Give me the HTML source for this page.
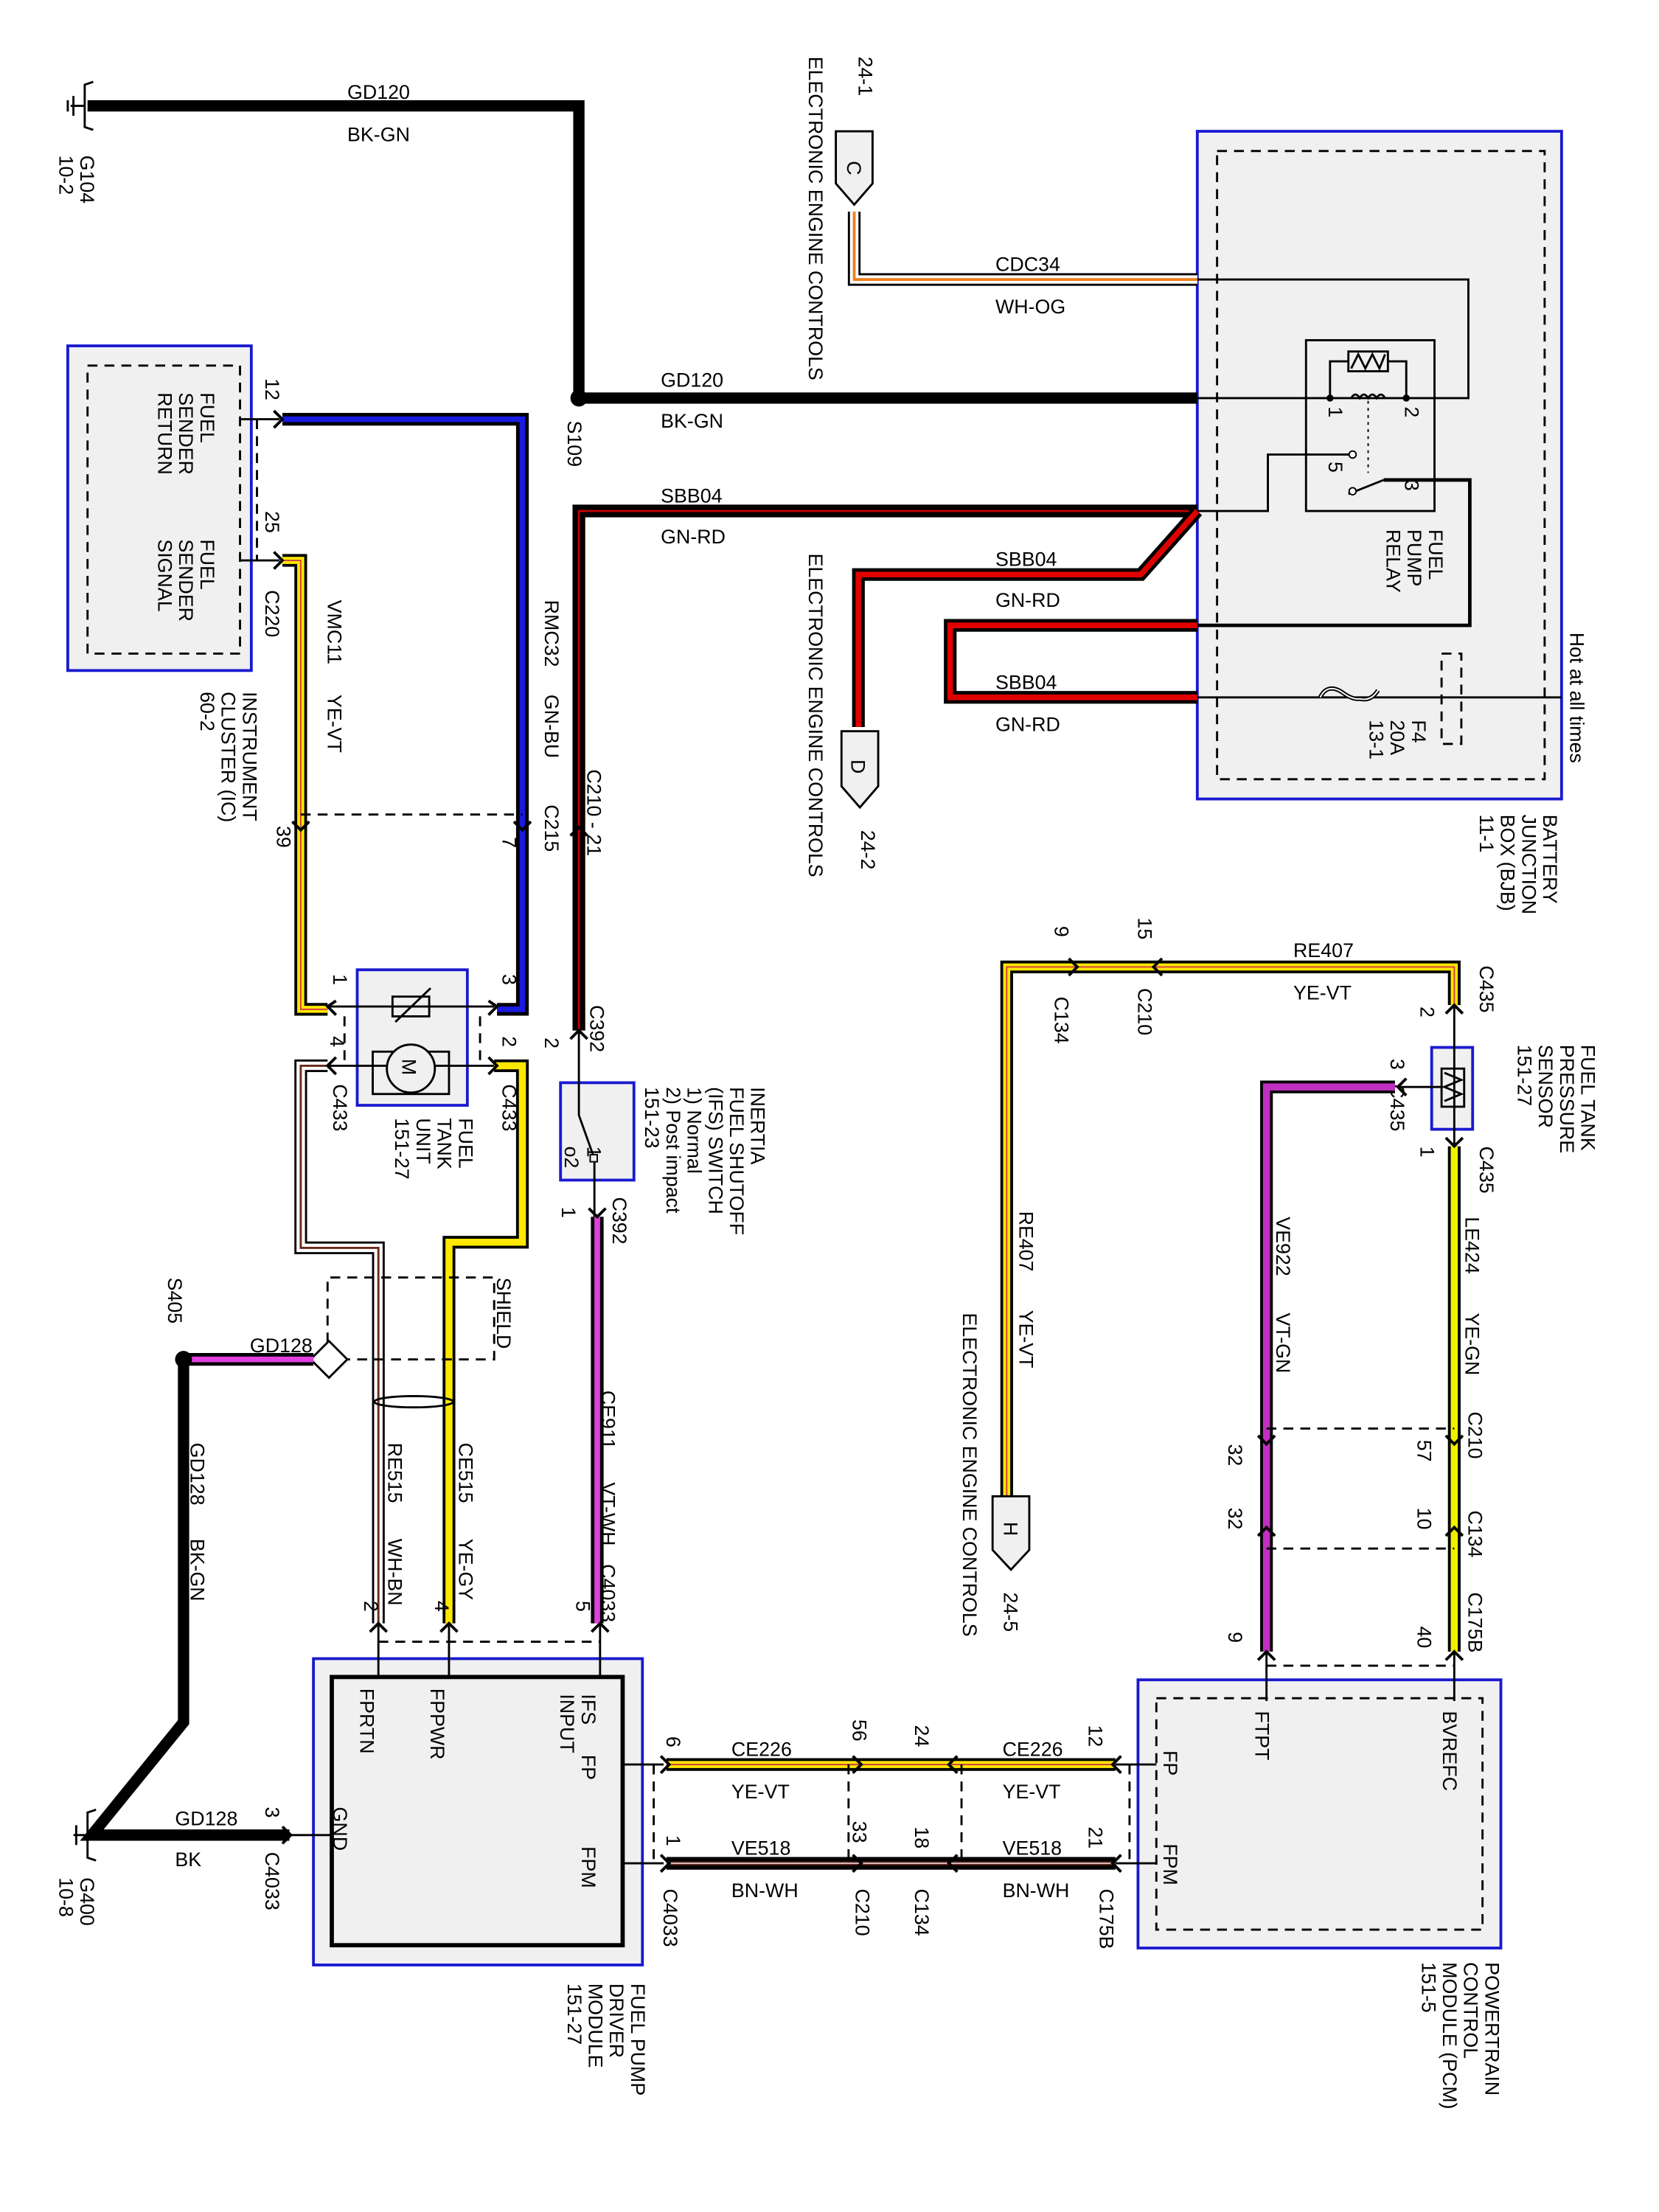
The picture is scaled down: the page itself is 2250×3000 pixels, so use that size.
<!DOCTYPE html>
<html><head><meta charset="utf-8"><style>
html,body{margin:0;padding:0;background:#fff;}
svg{display:block;}
text{font-family:"Liberation Sans",Arial,sans-serif;font-size:14px;fill:#000;}
.box{fill:#f0f0f0;stroke:#1a1ad0;stroke-width:2;}
.dash{fill:none;stroke:#000;stroke-width:1.5;stroke-dasharray:7,5;}
.ln{fill:none;stroke:#000;stroke-width:1.5;}
.wk{fill:none;stroke:#000;stroke-width:8;stroke-linejoin:miter;}
.wo{fill:none;stroke:#000;stroke-width:9;stroke-linejoin:miter;}
</style></head><body>
<svg width="2250" height="3000" viewBox="0 0 1175 1567" preserveAspectRatio="none" xmlns="http://www.w3.org/2000/svg">
<rect width="1175" height="1567" fill="#fff"/>

<rect class="box" x="48" y="245" width="130" height="230"/>
<rect class="dash" x="62" y="259" width="108" height="204"/>
<rect class="box" x="848" y="93" width="258" height="473"/>
<rect class="dash" x="862" y="107" width="232" height="445"/>
<rect class="box" x="222" y="1175" width="233" height="217"/>
<rect x="235" y="1188" width="206" height="190" fill="#f0f0f0" stroke="#000" stroke-width="3"/>
<rect class="box" x="806" y="1190" width="257" height="190"/>
<rect class="dash" x="819" y="1203" width="231" height="164"/>
<rect class="box" x="253" y="687" width="78" height="96"/>
<rect class="box" x="397" y="767" width="52" height="69"/>
<rect class="box" x="1014" y="742" width="29" height="58"/>

<polyline class="ln" points="66,58 60,60 60,90 66,92"/>
<line class="ln" x1="50" y1="75" x2="60" y2="75"/>
<line class="ln" x1="52" y1="68" x2="52" y2="82"/><line class="ln" x1="48" y1="71" x2="48" y2="79"/>
<polyline class="wk" points="62,75 410,75 410,282"/>
<polyline class="wk" points="410,282 848,282"/>
<circle cx="410" cy="282" r="6"/>
<text x="246" y="70">GD120</text><text x="246" y="100">BK-GN</text>
<text x="468" y="274">GD120</text><text x="468" y="303">BK-GN</text>
<text transform="translate(402,298) rotate(90)">S109</text>
<text transform="translate(57,110) rotate(90)">G104</text>
<text transform="translate(42,110) rotate(90)">10-2</text>

<polyline class="wo" points="605,150 605,198 848,198"/>
<polyline fill="none" stroke="#fff" stroke-width="6" points="605,150 605,198 848,198"/>
<polyline fill="none" stroke="#f08020" stroke-width="2" points="605,150 605,198 848,198"/>
<path d="M592,93 H618 V130 L605,145 L592,130 Z" fill="#f0f0f0" stroke="#000" stroke-width="1.5"/>
<text transform="translate(600,114) rotate(90)">C</text>
<text transform="translate(608,40) rotate(90)">24-1</text>
<text transform="translate(573,40) rotate(90)">ELECTRONIC ENGINE CONTROLS</text>
<text x="705" y="192">CDC34</text><text x="705" y="222">WH-OG</text>

<polyline class="wo" points="410,730 410,362 848,362"/>
<polyline fill="none" stroke="#c00000" stroke-width="1.5" points="410,730 410,362 848,362"/>
<polyline class="wo" points="608,515 608,407 808,407 848,362"/>
<polyline fill="none" stroke="#e00000" stroke-width="4" points="608,515 608,407 808,407 848,362"/>
<polyline class="wo" points="848,443 673,443 673,494 848,494"/>
<polyline fill="none" stroke="#e00000" stroke-width="4" points="848,443 673,443 673,494 848,494"/>
<text x="468" y="356">SBB04</text><text x="468" y="385">GN-RD</text>
<text x="705" y="401">SBB04</text><text x="705" y="430">GN-RD</text>
<text x="705" y="488">SBB04</text><text x="705" y="518">GN-RD</text>
<text transform="translate(573,392) rotate(90)">ELECTRONIC ENGINE CONTROLS</text>
<path d="M596,518 H622 V557 L609,572 L596,557 Z" fill="#f0f0f0" stroke="#000" stroke-width="1.5"/>
<text transform="translate(603,538) rotate(90)">D</text>
<text transform="translate(610,588) rotate(90)">24-2</text>

<polyline class="ln" points="848,198 1040,198 1040,282 848,282"/>
<rect x="925" y="241" width="91" height="121" fill="none" stroke="#000" stroke-width="1.5"/>
<polyline class="ln" points="942,282 942,256 955,256"/>
<rect x="955" y="249" width="28" height="14" fill="none" stroke="#000" stroke-width="1.5"/>
<polyline class="ln" points="957,261 962,251 967,261 972,251 977,261 981,251"/>
<polyline class="ln" points="983,256 996,256 996,282"/>
<circle cx="942" cy="282" r="2.5"/><circle cx="996" cy="282" r="2.5"/>
<path d="M957,282 q3,-5 6,0 q3,-5 6,0 q3,-5 6,0 q3,-5 6,0" class="ln"/>
<line x1="969" y1="284" x2="969" y2="335" stroke="#000" stroke-width="1" stroke-dasharray="2,3"/>
<polyline class="ln" points="848,362 898,362 898,322 957,322"/>
<circle cx="958" cy="322" r="2.5" fill="#fff" stroke="#000"/>
<line class="ln" x1="955" y1="350" x2="980" y2="340"/><circle cx="958" cy="348" r="2.5" fill="#fff" stroke="#000"/>
<polyline fill="none" stroke="#000" stroke-width="2.5" points="980,340 1041,340 1041,443 848,443"/>
<text transform="translate(941,288) rotate(90)" font-size="12">1</text>
<text transform="translate(995,288) rotate(90)" font-size="12">2</text>
<text transform="translate(941,327) rotate(90)" font-size="12">5</text>
<text transform="translate(995,340) rotate(90)" font-size="12">3</text>
<text transform="translate(1012,375) rotate(90)">FUEL</text>
<text transform="translate(997,375) rotate(90)">PUMP</text>
<text transform="translate(982,375) rotate(90)">RELAY</text>
<line class="ln" x1="848" y1="494" x2="1106" y2="494"/>
<path d="M935,494 q5,-10 15,-4 q8,6 13,5 q8,2 13,-6" fill="none" stroke="#000" stroke-width="3"/>
<path d="M935,494 q5,-10 15,-4 q8,6 13,5 q8,2 13,-6" fill="none" stroke="#fff" stroke-width="1"/>
<rect x="1021" y="463" width="14" height="64" fill="none" stroke="#000" stroke-width="1.5" stroke-dasharray="7,5"/>
<text transform="translate(1000,510) rotate(90)">F4</text>
<text transform="translate(985,510) rotate(90)">20A</text>
<text transform="translate(970,510) rotate(90)">13-1</text>
<text transform="translate(1112,448) rotate(90)">Hot at all times</text>
<text transform="translate(1093,577) rotate(90)">BATTERY</text>
<text transform="translate(1078,577) rotate(90)">JUNCTION</text>
<text transform="translate(1063,577) rotate(90)">BOX (BJB)</text>
<text transform="translate(1048,577) rotate(90)">11-1</text>

<line class="ln" x1="170" y1="297" x2="198" y2="297"/><line class="ln" x1="170" y1="397" x2="198" y2="397"/>
<polyline class="wo" points="200,297 370,297 370,715 352,715"/>
<polyline fill="none" stroke="#1a1ae0" stroke-width="4" points="200,297 370,297 370,715 352,715"/>
<polyline class="wo" points="200,397 213,397 213,715 232,715"/>
<polyline fill="none" stroke="#ffe800" stroke-width="5" points="200,397 213,397 213,715 232,715"/>
<polyline fill="none" stroke="#d04040" stroke-width="1" points="200,397 213,397 213,715 232,715"/>
<line class="dash" x1="182" y1="297" x2="182" y2="397"/>
<line class="dash" x1="213" y1="577" x2="370" y2="577"/>
<text transform="translate(142,278) rotate(90)">FUEL</text>
<text transform="translate(127,278) rotate(90)">SENDER</text>
<text transform="translate(112,278) rotate(90)">RETURN</text>
<text transform="translate(142,382) rotate(90)">FUEL</text>
<text transform="translate(127,382) rotate(90)">SENDER</text>
<text transform="translate(112,382) rotate(90)">SIGNAL</text>
<text transform="translate(188,268) rotate(90)">12</text>
<text transform="translate(188,362) rotate(90)">25</text>
<text transform="translate(188,418) rotate(90)">C220</text>
<text transform="translate(232,425) rotate(90)">VMC11</text>
<text transform="translate(232,492) rotate(90)">YE-VT</text>
<text transform="translate(386,425) rotate(90)">RMC32</text>
<text transform="translate(386,492) rotate(90)">GN-BU</text>
<text transform="translate(386,570) rotate(90)">C215</text>
<text transform="translate(356,593) rotate(90)">7</text>
<text transform="translate(196,585) rotate(90)">39</text>
<text transform="translate(172,490) rotate(90)">INSTRUMENT</text>
<text transform="translate(157,490) rotate(90)">CLUSTER (IC)</text>
<text transform="translate(142,490) rotate(90)">60-2</text>

<line class="ln" x1="232" y1="713" x2="350" y2="713"/>
<rect x="278" y="706" width="26" height="14" fill="none" stroke="#000" stroke-width="1.5"/>
<line class="ln" x1="280" y1="724" x2="305" y2="700"/>
<line class="ln" x1="232" y1="755" x2="350" y2="755"/>
<rect x="264" y="745" width="54" height="30" fill="none" stroke="#000" stroke-width="1.5"/>
<circle cx="291" cy="757" r="17" fill="#f0f0f0" stroke="#000" stroke-width="1.5"/>
<text transform="translate(285,750) rotate(90)" font-size="16">M</text>
<line class="dash" x1="244" y1="720" x2="244" y2="755"/><line class="dash" x1="340" y1="720" x2="340" y2="755"/>
<text transform="translate(236,690) rotate(90)">1</text><text transform="translate(356,690) rotate(90)">3</text>
<text transform="translate(234,734) rotate(90)">4</text><text transform="translate(356,734) rotate(90)">2</text>
<text transform="translate(236,768) rotate(90)">C433</text><text transform="translate(356,768) rotate(90)">C433</text>
<text transform="translate(325,792) rotate(90)">FUEL</text>
<text transform="translate(310,792) rotate(90)">TANK</text>
<text transform="translate(295,792) rotate(90)">UNIT</text>
<text transform="translate(280,792) rotate(90)">151-27</text>

<polyline class="wo" points="232,755 213,755 213,884 268,884 268,1150"/>
<polyline fill="none" stroke="#fff" stroke-width="6" points="232,755 213,755 213,884 268,884 268,1150"/>
<polyline fill="none" stroke="#6a2a1a" stroke-width="1.5" points="232,755 213,755 213,884 268,884 268,1150"/>
<polyline class="wo" points="350,755 370,755 370,880 318,880 318,1150"/>
<polyline fill="none" stroke="#ffe800" stroke-width="5" points="350,755 370,755 370,880 318,880 318,1150"/>
<polyline class="dash" points="232,963 232,905 350,905 350,963 245,963"/>
<text transform="translate(352,905) rotate(90)">SHIELD</text>
<path d="M233,950 L246,963 L233,976 L220,963 Z" fill="#fff" stroke="#000" stroke-width="1.5"/>
<polyline class="wo" points="130,963 222,963"/>
<polyline fill="none" stroke="#e040e0" stroke-width="4" points="130,963 222,963"/>
<ellipse cx="293" cy="993" rx="28" ry="4" fill="none" stroke="#000" stroke-width="1.5"/>
<circle cx="130" cy="963" r="6"/>
<text transform="translate(119,905) rotate(90)">S405</text>
<text x="177" y="958">GD128</text>
<polyline class="wk" points="130,963 130,1220 65,1300 205,1300"/>
<text transform="translate(135,1022) rotate(90)">GD128</text>
<text transform="translate(135,1090) rotate(90)">BK-GN</text>
<text transform="translate(275,1022) rotate(90)">RE515</text>
<text transform="translate(275,1090) rotate(90)">WH-BN</text>
<text transform="translate(325,1022) rotate(90)">CE515</text>
<text transform="translate(325,1090) rotate(90)">YE-GY</text>
<text transform="translate(258,1134) rotate(90)">2</text>
<text transform="translate(308,1134) rotate(90)">4</text>
<text transform="translate(408,1134) rotate(90)">5</text>
<line class="dash" x1="268" y1="1163" x2="425" y2="1163"/>
<line class="ln" x1="268" y1="1150" x2="268" y2="1188"/><line class="ln" x1="318" y1="1150" x2="318" y2="1188"/><line class="ln" x1="425" y1="1150" x2="425" y2="1188"/>

<polyline class="ln" points="68,1282 62,1284 62,1316 68,1318"/>
<line class="ln" x1="52" y1="1300" x2="62" y2="1300"/>
<line class="ln" x1="54" y1="1293" x2="54" y2="1307"/>
<text x="124" y="1293">GD128</text><text x="124" y="1322">BK</text>
<text transform="translate(188,1280) rotate(90)">3</text>
<text transform="translate(188,1312) rotate(90)">C4033</text>
<text transform="translate(57,1330) rotate(90)">G400</text>
<text transform="translate(42,1330) rotate(90)">10-8</text>
<line class="ln" x1="205" y1="1300" x2="235" y2="1300"/>

<text transform="translate(255,1196) rotate(90)">FPRTN</text>
<text transform="translate(305,1196) rotate(90)">FPPWR</text>
<text transform="translate(412,1200) rotate(90)">IFS</text>
<text transform="translate(397,1200) rotate(90)">INPUT</text>
<text transform="translate(412,1243) rotate(90)">FP</text>
<text transform="translate(412,1308) rotate(90)">FPM</text>
<text transform="translate(236,1280) rotate(90)">GND</text>
<text transform="translate(447,1405) rotate(90)">FUEL PUMP</text>
<text transform="translate(432,1405) rotate(90)">DRIVER</text>
<text transform="translate(417,1405) rotate(90)">MODULE</text>
<text transform="translate(402,1405) rotate(90)">151-27</text>

<text transform="translate(416,545) rotate(90)">C210 - 21</text>
<text transform="translate(418,712) rotate(90)">C392</text>
<text transform="translate(386,735) rotate(90)">2</text>
<line class="ln" x1="410" y1="730" x2="410" y2="790"/>
<line class="ln" x1="410" y1="790" x2="420" y2="818"/>
<rect x="418" y="818" width="5" height="5" fill="none" stroke="#000"/>
<line class="ln" x1="421" y1="823" x2="421" y2="862"/>
<text transform="translate(416,812) rotate(90)" font-size="12">1</text>
<text transform="translate(400,812) rotate(90)" font-size="12">o2</text>
<text transform="translate(398,855) rotate(90)">1</text>
<text transform="translate(434,848) rotate(90)">C392</text>
<text transform="translate(532,770) rotate(90)">INERTIA</text>
<text transform="translate(517,770) rotate(90)">FUEL SHUTOFF</text>
<text transform="translate(502,770) rotate(90)">(IFS) SWITCH</text>
<text transform="translate(487,770) rotate(90)">1) Normal</text>
<text transform="translate(472,770) rotate(90)">2) Post impact</text>
<text transform="translate(457,770) rotate(90)">151-23</text>
<polyline class="wo" points="423,862 423,1150"/>
<polyline fill="none" stroke="#e040e0" stroke-width="4" points="423,862 423,1150"/>
<text transform="translate(426,985) rotate(90)">CE911</text>
<text transform="translate(426,1050) rotate(90)">VT-WH</text>
<text transform="translate(426,1108) rotate(90)">C4033</text>

<line class="ln" x1="441" y1="1250" x2="470" y2="1250"/><line class="ln" x1="441" y1="1320" x2="470" y2="1320"/>
<polyline class="wo" points="472,1250 790,1250"/>
<polyline fill="none" stroke="#ffe800" stroke-width="5" points="472,1250 790,1250"/>
<polyline fill="none" stroke="#d04040" stroke-width="1" points="472,1250 790,1250"/>
<polyline class="wo" points="472,1320 790,1320"/>
<polyline fill="none" stroke="#4a1a10" stroke-width="3" points="472,1320 790,1320"/>
<polyline fill="none" stroke="#e0c0c0" stroke-width="1" points="472,1320 790,1320"/>
<line class="ln" x1="790" y1="1250" x2="819" y2="1250"/><line class="ln" x1="790" y1="1320" x2="819" y2="1320"/>
<line class="dash" x1="463" y1="1250" x2="463" y2="1320"/><line class="dash" x1="601" y1="1250" x2="601" y2="1320"/>
<line class="dash" x1="681" y1="1250" x2="681" y2="1320"/><line class="dash" x1="800" y1="1250" x2="800" y2="1320"/>
<text x="518" y="1244">CE226</text><text x="518" y="1274">YE-VT</text>
<text x="710" y="1244">CE226</text><text x="710" y="1274">YE-VT</text>
<text x="518" y="1314">VE518</text><text x="518" y="1344">BN-WH</text>
<text x="710" y="1314">VE518</text><text x="710" y="1344">BN-WH</text>
<text transform="translate(472,1230) rotate(90)">6</text>
<text transform="translate(604,1218) rotate(90)">56</text>
<text transform="translate(648,1222) rotate(90)">24</text>
<text transform="translate(771,1222) rotate(90)">12</text>
<text transform="translate(472,1300) rotate(90)">1</text>
<text transform="translate(604,1290) rotate(90)">33</text>
<text transform="translate(648,1294) rotate(90)">18</text>
<text transform="translate(771,1294) rotate(90)">21</text>
<text transform="translate(470,1338) rotate(90)">C4033</text>
<text transform="translate(606,1338) rotate(90)">C210</text>
<text transform="translate(648,1338) rotate(90)">C134</text>
<text transform="translate(779,1338) rotate(90)">C175B</text>

<text transform="translate(824,1240) rotate(90)">FP</text>
<text transform="translate(824,1306) rotate(90)">FPM</text>
<text transform="translate(889,1212) rotate(90)">FTPT</text>
<text transform="translate(1022,1212) rotate(90)">BVREFC</text>
<text transform="translate(1052,1390) rotate(90)">POWERTRAIN</text>
<text transform="translate(1037,1390) rotate(90)">CONTROL</text>
<text transform="translate(1022,1390) rotate(90)">MODULE (PCM)</text>
<text transform="translate(1007,1390) rotate(90)">151-5</text>

<polyline class="wo" points="1030,712 1030,685 713,685 713,1060"/>
<polyline fill="none" stroke="#ffe800" stroke-width="5" points="1030,712 1030,685 713,685 713,1060"/>
<polyline fill="none" stroke="#d04040" stroke-width="1" points="1030,712 1030,685 713,685 713,1060"/>
<text x="916" y="678">RE407</text><text x="916" y="708">YE-VT</text>
<text transform="translate(806,650) rotate(90)">15</text>
<text transform="translate(747,656) rotate(90)">9</text>
<text transform="translate(806,700) rotate(90)">C210</text>
<text transform="translate(747,706) rotate(90)">C134</text>
<text transform="translate(722,858) rotate(90)">RE407</text>
<text transform="translate(722,928) rotate(90)">YE-VT</text>
<text transform="translate(682,930) rotate(90)">ELECTRONIC ENGINE CONTROLS</text>
<path d="M703,1060 H729 V1098 L716,1112 L703,1098 Z" fill="#f0f0f0" stroke="#000" stroke-width="1.5"/>
<text transform="translate(711,1078) rotate(90)">H</text>
<text transform="translate(711,1128) rotate(90)">24-5</text>

<line class="ln" x1="1030" y1="712" x2="1030" y2="812"/>
<line class="ln" x1="990" y1="770" x2="1022" y2="770"/>
<rect x="1021" y="757" width="16" height="27" fill="none" stroke="#000" stroke-width="1.5"/>
<polyline class="ln" points="1023,760 1035,765 1023,770 1035,775 1023,780"/>
<text transform="translate(1048,684) rotate(90)">C435</text>
<text transform="translate(1006,713) rotate(90)">2</text>
<text transform="translate(985,750) rotate(90)">3</text>
<text transform="translate(985,768) rotate(90)">C435</text>
<text transform="translate(1006,812) rotate(90)">1</text>
<text transform="translate(1048,812) rotate(90)">C435</text>
<text transform="translate(1120,740) rotate(90)">FUEL TANK</text>
<text transform="translate(1105,740) rotate(90)">PRESSURE</text>
<text transform="translate(1090,740) rotate(90)">SENSOR</text>
<text transform="translate(1075,740) rotate(90)">151-27</text>
<polyline class="wo" points="988,770 897,770 897,1170"/>
<polyline fill="none" stroke="#c030c0" stroke-width="5" points="988,770 897,770 897,1170"/>
<polyline class="wo" points="1030,812 1030,1170"/>
<polyline fill="none" stroke="#f0f000" stroke-width="5" points="1030,812 1030,1170"/>
<line class="ln" x1="897" y1="1170" x2="897" y2="1205"/><line class="ln" x1="1030" y1="1170" x2="1030" y2="1205"/>
<line class="dash" x1="897" y1="1012" x2="1030" y2="1012"/>
<line class="dash" x1="897" y1="1097" x2="1030" y2="1097"/>
<line class="dash" x1="897" y1="1180" x2="1030" y2="1180"/>
<text transform="translate(904,862) rotate(90)">VE922</text>
<text transform="translate(904,930) rotate(90)">VT-GN</text>
<text transform="translate(1038,862) rotate(90)">LE424</text>
<text transform="translate(1038,930) rotate(90)">YE-GN</text>
<text transform="translate(1040,1000) rotate(90)">C210</text>
<text transform="translate(1040,1070) rotate(90)">C134</text>
<text transform="translate(1040,1128) rotate(90)">C175B</text>
<text transform="translate(870,1023) rotate(90)">32</text>
<text transform="translate(870,1068) rotate(90)">32</text>
<text transform="translate(870,1156) rotate(90)">9</text>
<text transform="translate(1004,1020) rotate(90)">57</text>
<text transform="translate(1004,1068) rotate(90)">10</text>
<text transform="translate(1004,1152) rotate(90)">40</text>

<g fill="none" stroke="#000" stroke-width="2">
<polyline points="194,291 200,297 194,303"/><polyline points="194,391 200,397 194,403"/>
<polyline points="238,709 232,713 238,719"/><polyline points="346,709 352,713 346,719"/>
<polyline points="238,749 232,755 238,761"/><polyline points="346,749 352,755 346,761"/>
<polyline points="404,736 410,730 416,736"/><polyline points="417,856 423,862 429,856"/>
<polyline points="468,1244 474,1250 468,1256"/><polyline points="468,1314 474,1320 468,1326"/>
<polyline points="604,1244 610,1250 604,1256"/><polyline points="604,1314 610,1320 604,1326"/>
<polyline points="678,1244 672,1250 678,1256"/><polyline points="678,1314 672,1320 678,1326"/>
<polyline points="794,1244 788,1250 794,1256"/><polyline points="794,1314 788,1320 794,1326"/>
<polyline points="200,1294 206,1300 200,1306"/>
<polyline points="757,679 763,685 757,691"/><polyline points="823,679 817,685 823,691"/>
<polyline points="1024,718 1030,712 1036,718"/><polyline points="996,764 990,770 996,776"/>
<polyline points="1024,806 1030,812 1036,806"/>
<polyline points="891,1017 897,1023 903,1017"/><polyline points="1024,1017 1030,1023 1036,1017"/>
<polyline points="891,1088 897,1082 903,1088"/><polyline points="1024,1088 1030,1082 1036,1088"/>
<polyline points="891,1176 897,1170 903,1176"/><polyline points="1024,1176 1030,1170 1036,1176"/>
<polyline points="207,582 213,588 219,582"/><polyline points="364,582 370,588 376,582"/>
<polyline points="404,592 410,586 416,592"/>
<polyline points="262,1156 268,1150 274,1156"/><polyline points="312,1156 318,1150 324,1156"/><polyline points="419,1156 425,1150 431,1156"/>
</g>
</svg>
</body></html>
